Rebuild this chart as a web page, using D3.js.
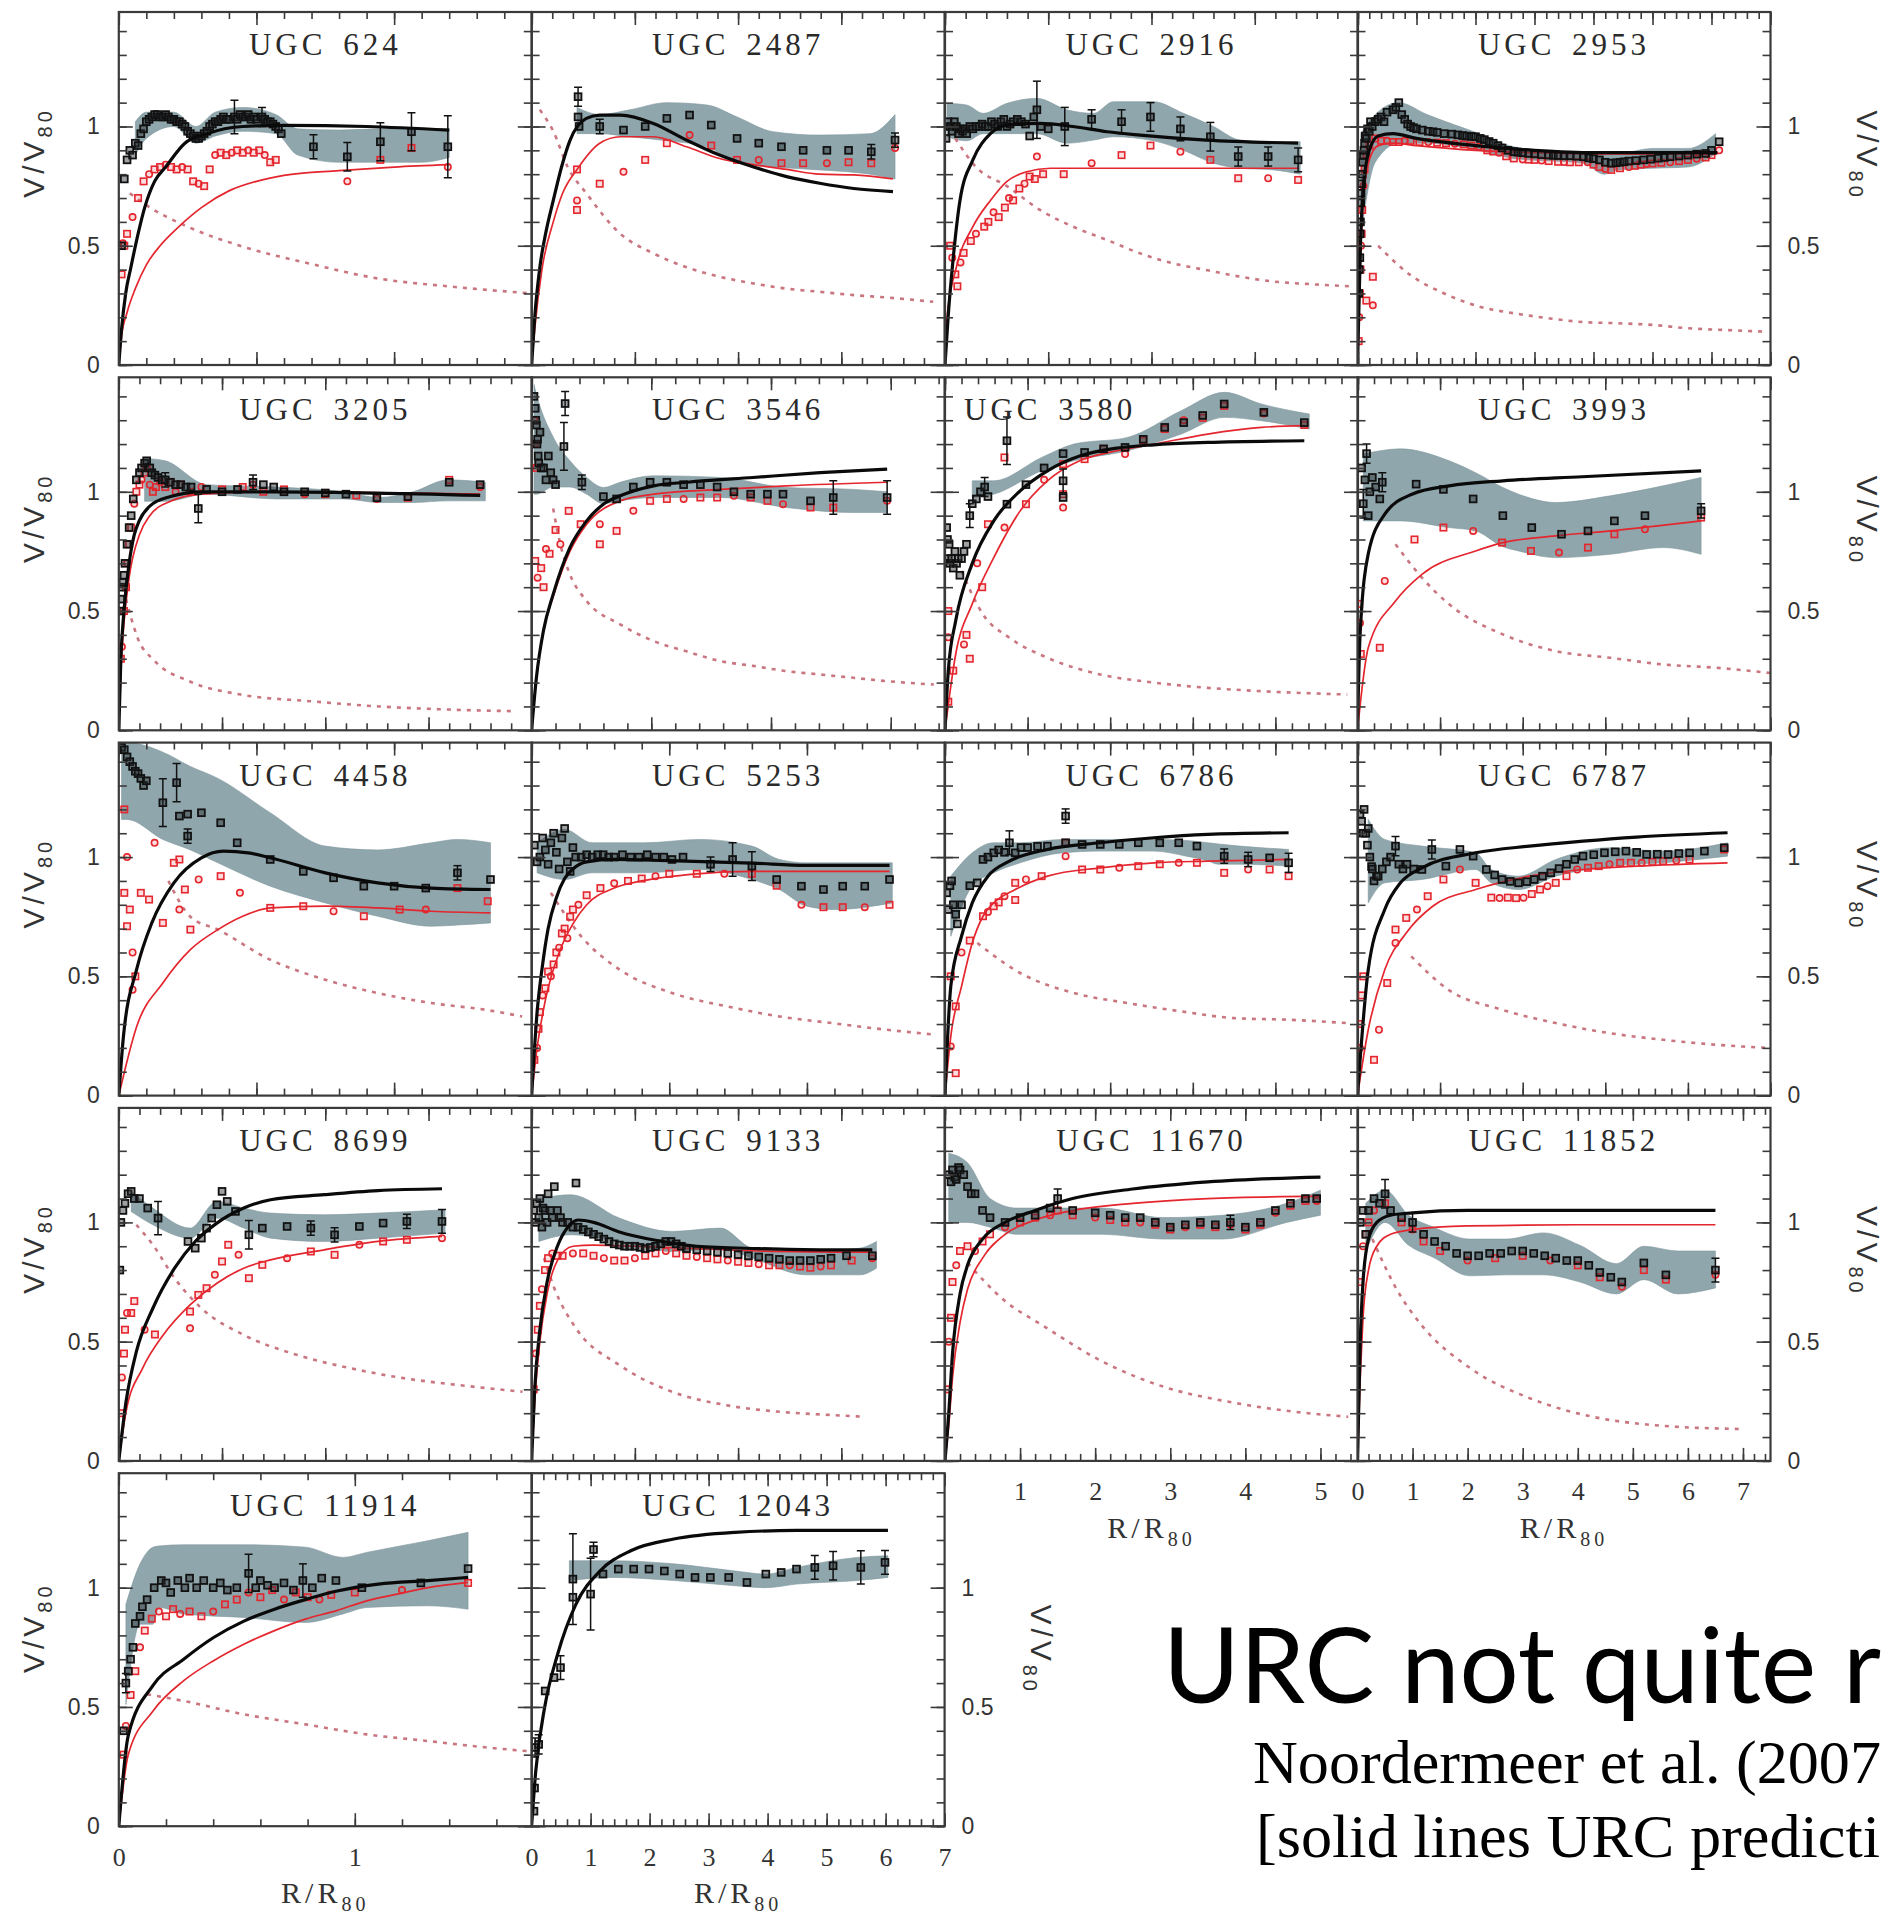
<!DOCTYPE html>
<html><head><meta charset="utf-8">
<script src="https://cdn.jsdelivr.net/npm/d3@7/dist/d3.min.js"></script>
<style>html,body{margin:0;padding:0;background:#fff;overflow:hidden}</style>
</head><body>
<svg id="chart" width="1885" height="1921"></svg>
<script>
// ---------------- DATA (x in R/R80 panel units, y in V/V80) ----------------
const galaxyNames = ["UGC 624","UGC 2487","UGC 2916","UGC 2953","UGC 3205","UGC 3546","UGC 3580","UGC 3993","UGC 4458","UGC 5253","UGC 6786","UGC 6787","UGC 8699","UGC 9133","UGC 11670","UGC 11852","UGC 11914","UGC 12043"];
const xMaxValues = [1.5,4,4,7,4,3.45,5,5,1.5,1.5,5,5,4,4,5.5,7.5,1.75,7];
const xMajorSteps = [0.5,1,1,1,1,1,1,1,0.5,0.5,1,1,1,1,1,1,1,1];
const xMinorSteps = [0.1,0.2,0.2,0.2,0.2,0.2,0.2,0.2,0.1,0.1,0.2,0.2,0.2,0.2,0.2,0.2,0.2,0.2];
const yTickLabels = [0,0.5,1];
const xTickLabels11670 = [1,2,3,4,5];
const xTickLabels11852 = [0,1,2,3,4,5,6,7];
const xTickLabels11914 = [0,1];
const xTickLabels12043 = [0,1,2,3,4,5,6,7];
const annotationTitle = "URC not quite r";
const annotationRef = "Noordermeer et al. (2007";
const annotationNote = "[solid lines URC predicti";

// UGC 624
const u624Band=[[0.06,0.88,1.02],[0.1,0.95,1.06],[0.2,1.0,1.06],[0.28,0.93,1.0],[0.35,0.96,1.06],[0.45,0.98,1.08],[0.57,0.97,1.05],[0.65,0.88,0.99],[0.8,0.85,0.985],[0.95,0.85,0.99],[1.1,0.85,0.99],[1.2,0.87,0.99]];
const u624Black=[[0.01,0.5,0],[0.02,0.78,0],[0.03,0.86,0],[0.04,0.9,0],[0.05,0.88,0],[0.06,0.93,0],[0.07,0.92,0],[0.08,0.97,0],[0.09,0.99,0],[0.1,1.02,0],[0.11,1.03,0],[0.12,1.04,0],[0.13,1.05,0],[0.14,1.05,0],[0.15,1.04,0],[0.16,1.04,0],[0.17,1.05,0],[0.18,1.04,0],[0.19,1.03,0],[0.2,1.03,0],[0.21,1.02,0],[0.22,1.02,0],[0.23,1.01,0],[0.24,1.0,0],[0.25,0.98,0],[0.26,0.97,0],[0.27,0.96,0],[0.28,0.95,0],[0.29,0.95,0],[0.3,0.96,0],[0.31,0.97,0],[0.32,0.98,0],[0.33,1.0,0],[0.34,1.01,0],[0.35,1.02,0],[0.36,1.02,0],[0.37,1.03,0],[0.38,1.04,0],[0.39,1.03,0],[0.4,1.03,0],[0.42,1.04,0.07],[0.43,1.03,0],[0.44,1.05,0],[0.45,1.04,0],[0.46,1.04,0],[0.47,1.05,0],[0.48,1.03,0],[0.49,1.04,0],[0.5,1.03,0],[0.52,1.04,0.04],[0.53,1.03,0],[0.54,1.02,0],[0.55,1.02,0],[0.56,1.01,0],[0.57,1.0,0],[0.58,0.99,0],[0.59,0.97,0],[0.707,0.915,0.05],[0.83,0.873,0.06],[0.95,0.936,0.08],[1.063,0.978,0.08],[1.195,0.915,0.13]];
const u624Red=[[0.01,0.38],[0.015,0.51],[0.02,0.5],[0.03,0.55],[0.05,0.62],[0.07,0.7],[0.09,0.77],[0.11,0.8],[0.13,0.82],[0.15,0.83],[0.17,0.84],[0.19,0.83],[0.21,0.82],[0.23,0.83],[0.25,0.82],[0.27,0.77],[0.29,0.76],[0.31,0.75],[0.33,0.82],[0.35,0.88],[0.37,0.89],[0.39,0.88],[0.41,0.89],[0.43,0.9],[0.45,0.89],[0.47,0.9],[0.49,0.89],[0.51,0.9],[0.53,0.88],[0.55,0.85],[0.57,0.86],[0.83,0.77],[0.95,0.86],[1.063,0.91],[1.195,0.83]];
const u624Urc=[[0,0],[0.01,0.15],[0.025,0.3],[0.044,0.41],[0.07,0.55],[0.094,0.66],[0.13,0.77],[0.17,0.83],[0.24,0.93],[0.32,0.97],[0.45,1.0],[0.6,1.005],[0.9,1.0],[1.2,0.985]];
const u624RedLine=[[0,0],[0.01,0.12],[0.03,0.22],[0.06,0.32],[0.1,0.42],[0.15,0.5],[0.2,0.56],[0.3,0.66],[0.4,0.73],[0.5,0.77],[0.6,0.795],[0.8,0.815],[1.0,0.83],[1.2,0.84]];
const u624RedDot=[[0.04,0.72],[0.1,0.67],[0.25,0.58],[0.44,0.5],[0.69,0.426],[0.94,0.363],[1.195,0.33],[1.5,0.30]];

// UGC 2487
const u2487Band=[[0.44,0.97,1.08],[0.66,0.97,1.05],[0.95,0.957,1.07],[1.31,0.94,1.1],[1.7,0.915,1.09],[1.99,0.846,1.04],[2.34,0.83,0.978],[2.79,0.818,0.964],[3.28,0.8,0.97],[3.52,0.78,1.05]];
const u2487Black=[[0.45,1.125,0.04],[0.45,1.04,0],[0.46,1.0,0],[0.66,1.0,0.03],[0.89,0.985,0],[1.1,1.0,0],[1.31,1.034,0],[1.53,1.048,0],[1.74,1.006,0],[1.99,0.95,0],[2.2,0.93,0],[2.42,0.915,0],[2.63,0.9,0],[2.86,0.9,0],[3.07,0.9,0],[3.29,0.894,0.03],[3.52,0.943,0.03]];
const u2487Red=[[0.44,0.82],[0.44,0.69],[0.44,0.65],[0.66,0.76],[0.89,0.81],[1.1,0.86],[1.31,0.93],[1.53,0.964],[1.74,0.92],[1.99,0.86],[2.2,0.86],[2.42,0.846],[2.63,0.846],[2.86,0.846],[3.07,0.85],[3.29,0.846],[3.52,0.91]];
const u2487Urc=[[0,0],[0.03,0.2],[0.08,0.41],[0.14,0.56],[0.21,0.69],[0.29,0.83],[0.37,0.94],[0.53,1.034],[0.66,1.048],[0.86,1.048],[1.18,1.013],[1.5,0.943],[1.82,0.88],[2.15,0.83],[2.47,0.79],[2.79,0.762],[3.12,0.74],[3.5,0.727]];
const u2487RedLine=[[0,0],[0.03,0.15],[0.1,0.4],[0.21,0.6],[0.3,0.72],[0.44,0.82],[0.66,0.93],[0.86,0.957],[1.18,0.957],[1.5,0.915],[1.82,0.866],[2.15,0.84],[2.47,0.82],[2.79,0.80],[3.12,0.797],[3.5,0.78]];
const u2487RedDot=[[0.08,1.07],[0.21,0.98],[0.35,0.83],[0.53,0.72],[0.86,0.55],[1.18,0.468],[1.5,0.41],[1.82,0.37],[2.15,0.342],[2.47,0.32],[2.79,0.307],[3.12,0.293],[3.44,0.283],[3.89,0.265]];

// UGC 2916
const u2916Band=[[0.02,0.957,1.097],[0.21,0.94,1.09],[0.37,0.97,1.055],[0.6,0.97,1.097],[0.89,0.97,1.118],[1.18,0.93,1.07],[1.44,0.943,1.055],[1.63,0.957,1.104],[2.02,0.94,1.104],[2.31,0.9,1.055],[2.6,0.846,1.0],[2.86,0.825,0.943],[3.18,0.818,0.936],[3.44,0.8,0.936]];
const u2916Black=[[0.01,0.95,0],[0.03,1.02,0],[0.05,1.0,0],[0.07,0.98,0],[0.09,1.02,0],[0.11,1.0,0],[0.13,0.97,0],[0.15,0.99,0],[0.17,0.98,0],[0.19,0.99,0],[0.21,0.97,0],[0.24,1.0,0],[0.27,0.99,0],[0.3,1.0,0],[0.33,1.0,0],[0.36,1.01,0],[0.39,1.0,0],[0.42,1.0,0],[0.45,1.02,0],[0.48,1.01,0],[0.51,1.0,0],[0.54,1.02,0],[0.57,1.03,0],[0.6,1.0,0],[0.63,1.01,0],[0.66,1.02,0],[0.7,1.03,0],[0.74,1.02,0],[0.78,1.01,0],[0.82,0.96,0],[0.86,1.04,0],[0.89,1.07,0.12],[0.93,1.0,0],[1.0,0.99,0],[1.16,1.0,0.08],[1.42,1.03,0.04],[1.71,1.02,0.05],[1.99,1.04,0.06],[2.28,0.99,0.05],[2.57,0.957,0.06],[2.84,0.874,0.04],[3.13,0.874,0.04],[3.42,0.86,0.05]];
const u2916Red=[[0.05,0.5],[0.07,0.45],[0.1,0.38],[0.12,0.33],[0.15,0.43],[0.18,0.47],[0.25,0.52],[0.3,0.55],[0.38,0.58],[0.42,0.6],[0.47,0.64],[0.52,0.62],[0.58,0.66],[0.62,0.7],[0.66,0.69],[0.72,0.74],[0.77,0.76],[0.82,0.79],[0.87,0.78],[0.89,0.874],[0.95,0.8],[1.15,0.8],[1.42,0.846],[1.71,0.88],[1.99,0.92],[2.28,0.894],[2.57,0.86],[2.84,0.783],[3.13,0.783],[3.42,0.776]];
const u2916Urc=[[0,0],[0.03,0.2],[0.08,0.45],[0.145,0.69],[0.27,0.86],[0.44,0.97],[0.6,1.006],[0.92,1.013],[1.24,1.0],[1.57,0.978],[1.89,0.964],[2.53,0.943],[3.42,0.93]];
const u2916RedLine=[[0,0],[0.02,0.2],[0.11,0.41],[0.27,0.58],[0.44,0.69],[0.6,0.77],[0.79,0.81],[1.02,0.825],[1.6,0.825],[3.42,0.825]];
const u2916RedDot=[[0.1,0.95],[0.3,0.83],[0.6,0.75],[0.92,0.65],[1.24,0.58],[1.57,0.524],[1.89,0.468],[2.21,0.426],[2.53,0.398],[2.86,0.37],[3.18,0.35],[3.5,0.34],[3.92,0.33]];

// UGC 2953
const u2953Band=[[0.06,0.55,0.97],[0.3,0.85,1.05],[0.7,0.93,1.1],[1.18,0.93,1.05],[2.06,0.9,0.97],[2.65,0.866,0.915],[3.83,0.846,0.887],[4.18,0.8,0.887],[4.42,0.818,0.887],[5.0,0.825,0.908],[5.6,0.83,0.908],[6.07,0.887,0.97]];
const u2953Black=[[0.02,0.3,0],[0.03,0.4,0],[0.04,0.45,0],[0.045,0.55,0],[0.05,0.6,0],[0.055,0.68,0],[0.06,0.72,0],[0.07,0.76,0],[0.08,0.8,0],[0.09,0.85,0],[0.1,0.88,0],[0.11,0.9,0],[0.12,0.93,0],[0.13,0.96,0],[0.15,0.95,0],[0.17,0.99,0],[0.2,0.98,0],[0.22,1.02,0],[0.25,1.0,0],[0.3,1.02,0],[0.35,1.03,0],[0.4,1.04,0],[0.45,1.02,0],[0.5,1.06,0],[0.6,1.07,0],[0.65,1.08,0],[0.7,1.1,0],[0.75,1.05,0],[0.8,1.03,0],[0.85,1.01,0],[0.9,1.0,0],[0.95,0.995,0],[1.0,0.99,0],[1.1,0.985,0],[1.2,0.98,0],[1.28,0.978,0],[1.35,0.975,0],[1.47,0.97,0],[1.6,0.968,0],[1.7,0.965,0],[1.78,0.962,0],[1.85,0.96,0],[1.93,0.958,0],[2.0,0.957,0],[2.08,0.95,0],[2.15,0.945,0],[2.23,0.937,0],[2.3,0.93,0],[2.38,0.92,0],[2.45,0.91,0],[2.55,0.9,0],[2.65,0.894,0],[2.72,0.892,0],[2.8,0.89,0],[2.9,0.887,0],[3.0,0.885,0],[3.12,0.882,0],[3.24,0.88,0],[3.32,0.879,0],[3.4,0.878,0],[3.5,0.877,0],[3.6,0.877,0],[3.72,0.875,0],[3.83,0.873,0],[3.92,0.868,0],[4.0,0.865,0],[4.1,0.86,0],[4.2,0.85,0],[4.3,0.846,0],[4.38,0.848,0],[4.45,0.85,0],[4.52,0.852,0],[4.6,0.855,0],[4.72,0.857,0],[4.85,0.86,0],[4.97,0.863,0],[5.1,0.867,0],[5.2,0.87,0],[5.3,0.873,0],[5.45,0.876,0],[5.6,0.88,0],[5.75,0.884,0],[5.9,0.887,0],[6.0,0.9,0],[6.13,0.936,0]];
const u2953Red=[[0.02,0.1],[0.03,0.2],[0.04,0.3],[0.05,0.4],[0.06,0.5],[0.07,0.55],[0.08,0.65],[0.1,0.75],[0.12,0.82],[0.15,0.27],[0.15,0.88],[0.2,0.92],[0.26,0.37],[0.26,0.25],[0.3,0.95],[0.4,0.94],[0.5,0.94],[0.6,0.935],[0.7,0.935],[0.8,0.94],[0.9,0.94],[1.05,0.935],[1.2,0.935],[1.35,0.932],[1.5,0.93],[1.65,0.928],[1.8,0.925],[1.93,0.92],[2.06,0.915],[2.2,0.9],[2.3,0.895],[2.4,0.89],[2.52,0.875],[2.65,0.866],[2.8,0.862],[2.9,0.861],[3.0,0.86],[3.12,0.857],[3.24,0.855],[3.4,0.852],[3.5,0.851],[3.6,0.85],[3.75,0.85],[3.9,0.85],[4.0,0.84],[4.1,0.83],[4.2,0.822],[4.3,0.818],[4.45,0.825],[4.6,0.83],[4.7,0.835],[4.8,0.84],[4.9,0.843],[5.0,0.845],[5.15,0.848],[5.3,0.85],[5.45,0.855],[5.6,0.86],[5.75,0.865],[5.9,0.87],[6.0,0.88],[6.13,0.9]];
const u2953Urc=[[0,0],[0.05,0.5],[0.1,0.75],[0.2,0.9],[0.35,0.96],[0.6,0.97],[1,0.95],[2,0.92],[3,0.9],[4,0.89],[5,0.89],[6.1,0.89]];
const u2953RedLine=[[0,0],[0.05,0.45],[0.1,0.7],[0.2,0.86],[0.35,0.92],[0.6,0.93],[1,0.92],[2,0.9],[3,0.89],[4,0.885],[5,0.885],[6.1,0.885]];
const u2953RedDot=[[0.35,0.5],[0.88,0.38],[1.47,0.3],[2.06,0.245],[2.65,0.217],[3.24,0.196],[3.83,0.18],[4.42,0.175],[5.0,0.168],[5.6,0.154],[6.2,0.147],[6.9,0.14]];

// UGC 3205
const u3205Band=[[0.25,0.96,1.14],[0.45,0.96,1.13],[0.85,0.99,1.03],[1.52,0.97,1.02],[2.18,0.97,1.0],[2.52,0.955,0.976],[2.85,0.955,1.0],[3.19,0.962,1.05],[3.55,0.962,1.04]];
const u3205Black=[[0.01,0.5,0],[0.02,0.55,0],[0.03,0.6,0],[0.04,0.62,0],[0.05,0.65,0],[0.06,0.7,0],[0.08,0.78,0],[0.1,0.85,0],[0.12,0.9,0],[0.14,0.97,0],[0.17,1.05,0],[0.2,1.08,0],[0.22,1.1,0],[0.25,1.12,0],[0.27,1.13,0],[0.3,1.1,0],[0.32,1.08,0],[0.35,1.07,0],[0.38,1.06,0],[0.42,1.05,0],[0.45,1.05,0.03],[0.5,1.04,0],[0.55,1.03,0],[0.6,1.03,0],[0.65,1.02,0],[0.7,1.02,0],[0.77,0.93,0.06],[0.85,1.01,0],[1.0,1.0,0],[1.15,1.01,0],[1.3,1.04,0.03],[1.4,1.03,0],[1.5,1.02,0],[1.6,1.0,0],[1.8,1.0,0],[2.0,0.995,0],[2.2,0.99,0],[2.5,0.975,0],[2.8,0.98,0],[3.2,1.04,0],[3.5,1.03,0]];
const u3205Red=[[0.02,0.3],[0.03,0.35],[0.05,0.5],[0.07,0.6],[0.08,0.7],[0.1,0.78],[0.12,0.85],[0.15,0.95],[0.17,1.0],[0.2,1.03],[0.22,1.05],[0.25,1.08],[0.27,1.1],[0.3,1.03],[0.33,1.0],[0.36,1.02],[0.4,1.04],[0.45,1.02],[0.5,1.04],[0.55,1.0],[0.6,1.03],[0.7,1.0],[0.8,1.02],[1.0,1.01],[1.2,1.02],[1.3,1.03],[1.4,1.0],[1.6,1.01],[1.8,0.99],[2.0,0.99],[2.3,0.985],[2.5,0.97],[2.8,0.975],[3.2,1.05],[3.5,1.02]];
const u3205Urc=[[0,0],[0.02,0.3],[0.05,0.5],[0.1,0.7],[0.15,0.82],[0.2,0.88],[0.3,0.94],[0.5,0.98],[0.8,1.0],[1.5,1.0],[3.5,0.985]];
const u3205RedLine=[[0,0],[0.02,0.25],[0.05,0.45],[0.1,0.64],[0.2,0.82],[0.3,0.9],[0.5,0.96],[0.8,0.99],[1.5,1.0],[3.5,0.99]];
const u3205RedDot=[[0.07,0.55],[0.12,0.47],[0.18,0.39],[0.35,0.29],[0.68,0.206],[1.18,0.15],[1.85,0.122],[2.52,0.1],[3.19,0.087],[3.85,0.08]];

// UGC 3546
const u3546Band=[[0.02,0.99,1.45],[0.04,0.99,1.41],[0.18,1.02,1.23],[0.32,1.02,1.13],[0.46,0.99,1.06],[0.6,0.95,1.018],[0.74,0.962,1.04],[1.02,0.976,1.067],[1.58,0.976,1.06],[2.13,0.934,1.018],[2.69,0.913,1.01],[2.97,0.913,1.0]];
const u3546Black=[[0.02,1.4,0],[0.03,1.35,0],[0.035,1.3,0],[0.04,1.28,0],[0.045,1.2,0],[0.05,1.22,0],[0.055,1.15,0],[0.06,1.12,0],[0.07,1.25,0],[0.08,1.1,0],[0.1,1.1,0],[0.12,1.05,0],[0.14,1.15,0],[0.16,1.08,0],[0.18,1.05,0],[0.2,1.03,0],[0.27,1.19,0.1],[0.28,1.37,0.05],[0.42,1.04,0.03],[0.6,0.98,0],[0.71,0.97,0],[0.85,1.02,0],[0.99,1.04,0],[1.13,1.04,0],[1.27,1.03,0],[1.41,1.03,0],[1.55,1.02,0],[1.69,1.0,0],[1.83,0.99,0],[1.97,0.99,0],[2.1,0.99,0],[2.33,0.962,0],[2.52,0.976,0.07],[2.97,0.976,0.07]];
const u3546Red=[[0.02,1.3],[0.03,1.2],[0.04,1.1],[0.03,0.71],[0.05,0.64],[0.08,0.68],[0.1,0.6],[0.12,0.76],[0.15,0.74],[0.2,0.84],[0.24,0.78],[0.31,0.92],[0.41,0.864],[0.57,0.864],[0.57,0.78],[0.71,0.836],[0.85,0.92],[0.99,0.962],[1.13,0.97],[1.27,0.97],[1.41,0.976],[1.55,0.976],[1.69,0.983],[1.83,0.976],[1.97,0.962],[2.1,0.948],[2.33,0.934],[2.52,0.934],[2.97,0.962]];
const u3546Urc=[[0,0],[0.04,0.22],[0.1,0.42],[0.18,0.57],[0.32,0.766],[0.46,0.878],[0.6,0.948],[0.74,0.983],[1.02,1.025],[1.3,1.04],[1.85,1.06],[2.41,1.08],[2.97,1.095]];
const u3546RedLine=[[0,0],[0.04,0.22],[0.1,0.42],[0.18,0.56],[0.32,0.75],[0.46,0.864],[0.74,0.962],[1.02,0.99],[1.58,1.01],[2.13,1.025],[2.97,1.04]];
const u3546RedDot=[[0.18,0.93],[0.25,0.76],[0.32,0.654],[0.46,0.542],[0.74,0.444],[1.02,0.374],[1.3,0.33],[1.58,0.29],[1.85,0.27],[2.13,0.248],[2.41,0.234],[2.69,0.22],[2.97,0.206],[3.36,0.192]];

// UGC 3580
const u3580Band=[[0.33,0.976,1.046],[0.59,0.99,1.046],[1.17,1.088,1.144],[1.56,1.13,1.2],[2.21,1.172,1.228],[2.86,1.242,1.34],[3.38,1.312,1.417],[3.83,1.298,1.368],[4.41,1.263,1.326]];
const u3580Black=[[0.02,0.85,0],[0.03,0.8,0],[0.04,0.72,0],[0.05,0.78,0],[0.06,0.7,0],[0.08,0.72,0],[0.1,0.68,0],[0.12,0.75,0],[0.14,0.7,0],[0.16,0.72,0],[0.18,0.65,0],[0.2,0.72,0],[0.23,0.75,0],[0.26,0.78,0],[0.3,0.9,0.05],[0.33,0.95,0],[0.38,0.97,0],[0.43,1.0,0],[0.48,1.02,0.04],[0.52,0.98,0],[0.75,1.214,0.1],[0.75,0.948,0],[0.98,1.03,0],[1.2,1.1,0],[1.43,1.16,0],[1.43,1.046,0.05],[1.43,0.976,0],[1.69,1.165,0],[1.92,1.18,0],[2.18,1.186,0],[2.4,1.22,0],[2.66,1.27,0],[2.89,1.29,0],[3.12,1.32,0],[3.38,1.368,0],[3.86,1.333,0],[4.35,1.29,0]];
const u3580Red=[[0.04,0.5],[0.04,0.39],[0.04,0.12],[0.1,0.25],[0.23,0.36],[0.26,0.4],[0.3,0.3],[0.39,0.7],[0.45,0.6],[0.52,0.864],[0.72,0.85],[0.72,1.144],[0.98,0.948],[1.2,1.05],[1.43,1.116],[1.43,0.99],[1.43,0.934],[1.69,1.137],[1.92,1.18],[2.18,1.158],[2.4,1.214],[2.66,1.263],[2.89,1.3],[3.12,1.31],[3.38,1.36],[3.86,1.328],[4.35,1.28]];
const u3580Urc=[[0,0],[0.04,0.25],[0.13,0.46],[0.33,0.7],[0.59,0.878],[0.91,1.004],[1.24,1.088],[1.63,1.15],[2.08,1.183],[2.53,1.197],[3.18,1.207],[4.35,1.214]];
const u3580RedLine=[[0,0],[0.13,0.32],[0.33,0.53],[0.59,0.724],[0.91,0.92],[1.24,1.046],[1.63,1.13],[2.08,1.172],[2.53,1.2],[3.18,1.242],[3.83,1.27],[4.35,1.277]];
const u3580RedDot=[[0.2,0.668],[0.46,0.486],[0.78,0.388],[1.24,0.304],[1.88,0.234],[2.53,0.2],[3.18,0.178],[3.83,0.164],[4.87,0.15]];

// UGC 3993
const u3993Band=[[0.07,0.878,1.158],[0.52,0.878,1.18],[1.11,0.85,1.13],[1.43,0.836,1.08],[1.76,0.77,1.018],[1.95,0.752,0.99],[2.4,0.724,0.955],[3.06,0.738,0.983],[3.7,0.766,1.025],[4.16,0.738,1.06]];
const u3993Black=[[0.05,1.1,0],[0.07,0.95,0.06],[0.09,1.05,0],[0.11,1.16,0.04],[0.13,0.9,0],[0.15,1.0,0],[0.18,1.06,0],[0.22,1.02,0],[0.27,0.97,0],[0.3,1.04,0.04],[0.71,1.032,0],[1.04,1.01,0],[1.4,0.97,0],[1.76,0.9,0],[2.11,0.85,0],[2.47,0.822,0],[2.79,0.836,0],[3.11,0.878,0],[3.48,0.9,0],[4.16,0.92,0.03]];
const u3993Red=[[0.02,0.53],[0.03,0.45],[0.04,0.32],[0.27,0.346],[0.33,0.626],[0.69,0.8],[1.04,0.85],[1.4,0.836],[1.75,0.787],[2.1,0.752],[2.44,0.745],[2.79,0.766],[3.11,0.822],[3.48,0.843],[4.16,0.892]];
const u3993Urc=[[0,0],[0.03,0.39],[0.13,0.74],[0.33,0.906],[0.66,0.99],[1.11,1.025],[1.76,1.046],[2.72,1.063],[4.16,1.088]];
const u3993RedLine=[[0,0],[0.13,0.346],[0.46,0.542],[0.78,0.654],[1.43,0.752],[1.76,0.787],[2.4,0.815],[3.06,0.836],[4.16,0.878]];
const u3993RedDot=[[0.46,0.78],[0.78,0.64],[1.11,0.528],[1.76,0.402],[2.4,0.332],[3.06,0.304],[3.7,0.276],[4.35,0.262],[5.0,0.24]];

// UGC 4458
const u4458Band=[[0.01,1.158,1.48],[0.03,1.158,1.48],[0.16,1.074,1.44],[0.26,1.03,1.38],[0.36,0.976,1.33],[0.55,0.878,1.186],[0.75,0.808,1.046],[0.94,0.752,1.03],[1.135,0.71,1.06],[1.23,0.715,1.074],[1.35,0.724,1.06]];
const u4458Black=[[0.01,1.46,0],[0.02,1.45,0],[0.03,1.42,0],[0.04,1.4,0],[0.05,1.38,0],[0.06,1.36,0],[0.07,1.35,0],[0.08,1.33,0],[0.09,1.3,0],[0.1,1.32,0],[0.16,1.228,0.1],[0.21,1.312,0.08],[0.22,1.172,0],[0.25,1.18,0],[0.25,1.088,0.03],[0.3,1.186,0],[0.37,1.144,0],[0.43,1.06,0],[0.55,0.99,0],[0.67,0.94,0],[0.78,0.913,0],[0.89,0.878,0],[1.0,0.878,0],[1.115,0.87,0],[1.23,0.934,0.03],[1.35,0.906,0]];
const u4458Red=[[0.02,1.2],[0.03,1.0],[0.02,0.85],[0.04,0.78],[0.05,0.6],[0.06,0.5],[0.03,0.71],[0.05,0.444],[0.08,0.85],[0.11,0.822],[0.13,1.06],[0.2,0.976],[0.22,0.99],[0.29,0.906],[0.37,0.92],[0.24,0.864],[0.22,0.78],[0.16,0.724],[0.26,0.696],[0.44,0.85],[0.55,0.787],[0.67,0.794],[0.78,0.773],[0.89,0.752],[1.02,0.78],[1.115,0.78],[1.23,0.87],[1.34,0.815]];
const u4458Urc=[[0,0],[0.017,0.25],[0.065,0.53],[0.12,0.724],[0.2,0.892],[0.3,0.997],[0.38,1.025],[0.47,1.018],[0.55,0.997],[0.75,0.934],[0.94,0.892],[1.135,0.87],[1.35,0.864]];
const u4458RedLine=[[0,0],[0.065,0.29],[0.16,0.472],[0.26,0.612],[0.36,0.696],[0.45,0.752],[0.55,0.787],[0.75,0.794],[0.94,0.787],[1.135,0.773],[1.35,0.766]];
const u4458RedDot=[[0.18,0.9],[0.26,0.75],[0.36,0.696],[0.55,0.57],[0.75,0.486],[0.94,0.43],[1.135,0.388],[1.33,0.36],[1.465,0.332]];

// UGC 5253
const u5253Band=[[0.02,0.934,1.06],[0.12,0.906,1.116],[0.22,0.934,1.06],[0.41,0.934,1.06],[0.61,0.948,1.074],[0.8,0.906,1.046],[0.9,0.864,0.99],[1.0,0.794,0.976],[1.1,0.78,0.976],[1.31,0.808,0.976]];
const u5253Black=[[0.01,1.05,0],[0.02,0.98,0],[0.03,1.0,0],[0.04,1.08,0],[0.05,1.03,0],[0.06,0.97,0],[0.07,1.06,0],[0.08,1.1,0],[0.09,1.02,0],[0.1,0.95,0],[0.11,1.08,0],[0.12,1.12,0],[0.13,0.98,0],[0.14,0.94,0],[0.15,1.04,0],[0.16,1.0,0],[0.18,1.0,0],[0.2,1.01,0],[0.22,1.0,0],[0.24,1.01,0],[0.26,1.01,0],[0.28,1.0,0],[0.3,1.0,0],[0.33,1.01,0],[0.36,1.0,0],[0.39,1.0,0],[0.42,1.01,0],[0.45,1.0,0],[0.48,1.0,0],[0.51,0.99,0],[0.55,1.0,0],[0.65,0.97,0.03],[0.73,0.99,0.07],[0.8,0.962,0.06],[0.89,0.906,0],[0.98,0.878,0],[1.06,0.864,0],[1.13,0.878,0],[1.21,0.878,0],[1.3,0.906,0]];
const u5253Red=[[0.01,0.15],[0.02,0.2],[0.025,0.28],[0.03,0.35],[0.04,0.42],[0.05,0.45],[0.06,0.52],[0.07,0.5],[0.08,0.55],[0.09,0.6],[0.1,0.62],[0.11,0.68],[0.12,0.7],[0.13,0.66],[0.14,0.75],[0.15,0.78],[0.17,0.8],[0.2,0.84],[0.25,0.87],[0.3,0.89],[0.35,0.9],[0.4,0.91],[0.45,0.92],[0.5,0.93],[0.6,0.93],[0.7,0.93],[0.8,0.93],[0.89,0.88],[0.98,0.8],[1.06,0.79],[1.13,0.79],[1.21,0.79],[1.3,0.8]];
const u5253Urc=[[0,0],[0.02,0.35],[0.04,0.55],[0.06,0.7],[0.09,0.83],[0.12,0.91],[0.15,0.95],[0.2,0.98],[0.3,0.99],[0.5,0.985],[0.8,0.975],[1.0,0.965],[1.3,0.965]];
const u5253RedLine=[[0,0],[0.02,0.2],[0.05,0.4],[0.1,0.6],[0.15,0.72],[0.2,0.8],[0.3,0.87],[0.4,0.9],[0.6,0.93],[0.8,0.94],[1.0,0.94],[1.3,0.94]];
const u5253RedDot=[[0.07,0.85],[0.18,0.668],[0.32,0.528],[0.51,0.43],[0.71,0.374],[0.9,0.332],[1.09,0.304],[1.29,0.276],[1.47,0.255]];

// UGC 6786
const u6786Band=[[0.07,0.668,0.92],[0.33,0.878,1.018],[0.59,0.934,1.06],[0.91,0.976,1.06],[1.43,1.018,1.074],[1.88,1.025,1.074],[2.53,1.025,1.074],[2.92,1.004,1.07],[3.18,0.985,1.06],[3.31,0.97,1.055],[3.57,0.97,1.046],[4.16,0.962,1.032]];
const u6786Black=[[0.02,0.85,0],[0.04,0.78,0],[0.06,0.88,0],[0.08,0.9,0],[0.1,0.8,0],[0.13,0.76,0],[0.15,0.72,0],[0.2,0.8,0],[0.3,0.88,0],[0.39,0.892,0],[0.46,0.99,0],[0.52,1.0,0],[0.59,1.018,0],[0.65,1.03,0],[0.72,1.02,0],[0.78,1.06,0.05],[0.85,1.018,0],[0.92,1.04,0],[1.0,1.04,0],[1.12,1.045,0],[1.24,1.046,0],[1.46,1.172,0.03],[1.46,1.06,0],[1.66,1.053,0],[1.88,1.053,0],[2.11,1.053,0],[2.34,1.06,0],[2.6,1.06,0],[2.83,1.06,0],[3.05,1.046,0],[3.38,1.004,0.03],[3.67,0.99,0.03],[3.93,0.997,0],[4.16,0.976,0.04]];
const u6786Red=[[0.13,0.094],[0.07,0.206],[0.13,0.374],[0.07,0.5],[0.2,0.6],[0.3,0.65],[0.46,0.752],[0.52,0.77],[0.59,0.794],[0.65,0.81],[0.72,0.836],[0.85,0.892],[0.85,0.82],[0.98,0.906],[1.17,0.92],[1.46,1.06],[1.46,1.004],[1.66,0.948],[1.88,0.948],[2.11,0.955],[2.34,0.962],[2.6,0.97],[2.83,0.976],[3.05,0.976],[3.38,0.934],[3.67,0.948],[3.93,0.948],[4.16,0.92]];
const u6786Urc=[[0,0],[0.07,0.458],[0.2,0.668],[0.33,0.808],[0.52,0.92],[0.78,0.983],[1.24,1.032],[1.88,1.06],[2.53,1.081],[3.18,1.095],[4.16,1.102]];
const u6786RedLine=[[0,0],[0.07,0.248],[0.2,0.458],[0.33,0.64],[0.46,0.752],[0.59,0.808],[0.85,0.864],[1.24,0.92],[1.88,0.955],[2.53,0.976],[3.18,0.983],[4.16,0.99]];
const u6786RedDot=[[0.39,0.64],[0.91,0.514],[1.56,0.43],[2.21,0.388],[2.86,0.353],[3.5,0.325],[4.16,0.318],[4.87,0.304]];

// UGC 6787
const u6787Band=[[0.13,0.808,1.158],[0.33,0.892,1.074],[0.78,0.906,1.046],[1.43,0.948,1.018],[1.62,0.892,0.948],[1.95,0.864,0.92],[2.4,0.92,0.99],[3.05,0.962,1.039],[3.7,0.976,1.025],[4.48,1.004,1.06]];
const u6787Black=[[0.03,1.18,0],[0.05,1.15,0],[0.07,1.1,0],[0.08,1.2,0],[0.1,1.1,0],[0.12,1.05,0],[0.13,1.12,0],[0.15,1.0,0],[0.17,0.96,0],[0.18,0.95,0],[0.2,0.9,0],[0.23,0.92,0],[0.25,0.92,0],[0.3,0.95,0],[0.35,0.98,0],[0.4,1.0,0],[0.46,1.046,0.04],[0.5,0.97,0],[0.55,0.95,0],[0.6,0.97,0],[0.68,0.95,0],[0.78,0.948,0],[0.9,1.032,0.04],[1.07,0.962,0],[1.24,1.032,0],[1.4,1.004,0],[1.56,0.948,0],[1.66,0.925,0],[1.75,0.906,0],[1.85,0.898,0],[1.95,0.892,0],[2.05,0.897,0],[2.14,0.906,0],[2.24,0.92,0],[2.34,0.934,0],[2.44,0.952,0],[2.53,0.97,0],[2.63,0.99,0],[2.73,1.004,0],[2.86,1.01,0],[2.99,1.018,0],[3.12,1.022,0],[3.25,1.025,0],[3.38,1.02,0],[3.5,1.011,0],[3.63,1.012,0],[3.76,1.011,0],[3.89,1.015,0],[4.02,1.018,0],[4.2,1.025,0],[4.44,1.039,0]];
const u6787Red=[[0.02,0.3],[0.03,0.2],[0.05,0.42],[0.07,0.5],[0.26,0.276],[0.2,0.15],[0.36,0.472],[0.46,0.64],[0.46,0.696],[0.59,0.745],[0.72,0.78],[0.85,0.836],[1.04,0.906],[1.24,0.948],[1.43,0.892],[1.62,0.83],[1.72,0.828],[1.82,0.83],[1.92,0.828],[2.01,0.83],[2.11,0.845],[2.21,0.864],[2.3,0.878],[2.4,0.892],[2.53,0.92],[2.66,0.948],[2.79,0.955],[2.92,0.962],[3.05,0.97],[3.18,0.976],[3.31,0.976],[3.44,0.976],[3.57,0.98],[3.7,0.983],[3.86,0.986],[4.02,0.99],[4.44,1.032]];
const u6787Urc=[[0,0],[0.13,0.528],[0.33,0.78],[0.52,0.892],[0.78,0.955],[1.43,1.018],[2.08,1.046],[2.73,1.067],[3.38,1.084],[4.48,1.102]];
const u6787RedLine=[[0,0],[0.13,0.276],[0.33,0.528],[0.59,0.682],[0.91,0.794],[1.43,0.864],[2.08,0.92],[2.73,0.948],[3.38,0.962],[4.48,0.976]];
const u6787RedDot=[[0.65,0.584],[1.1,0.444],[1.75,0.36],[2.4,0.304],[3.05,0.262],[3.7,0.234],[4.35,0.213],[4.97,0.2]];

// UGC 8699
const u8699Band=[[0.12,1.046,1.13],[0.33,0.99,1.06],[0.69,0.934,0.976],[0.95,1.018,1.088],[1.21,0.976,1.06],[1.47,0.934,1.039],[1.99,0.92,1.032],[2.51,0.934,1.039],[3.16,0.955,1.053]];
const u8699Black=[[0.01,0.8,0],[0.02,1.0,0],[0.04,1.05,0],[0.06,1.08,0],[0.09,1.12,0],[0.12,1.13,0],[0.15,1.1,0],[0.2,1.1,0],[0.28,1.06,0],[0.38,1.018,0.07],[0.67,0.92,0],[0.74,0.892,0],[0.8,0.934,0],[0.85,0.976,0],[0.9,1.018,0],[0.95,1.074,0],[1.0,1.13,0],[1.05,1.088,0],[1.13,1.046,0],[1.26,0.948,0.06],[1.39,0.976,0],[1.63,0.983,0],[1.86,0.976,0.03],[2.09,0.948,0.03],[2.33,0.983,0],[2.56,0.997,0],[2.79,1.004,0.03],[3.13,1.004,0.05]];
const u8699Red=[[0.02,0.2],[0.03,0.35],[0.05,0.45],[0.06,0.55],[0.08,0.62],[0.12,0.62],[0.15,0.67],[0.25,0.55],[0.35,0.53],[0.69,0.626],[0.69,0.556],[0.77,0.696],[0.85,0.724],[0.93,0.78],[1.0,0.836],[1.06,0.906],[1.16,0.864],[1.26,0.766],[1.39,0.822],[1.63,0.85],[1.86,0.878],[2.09,0.864],[2.33,0.906],[2.56,0.92],[2.79,0.927],[3.13,0.934]];
const u8699Urc=[[0,0],[0.07,0.248],[0.17,0.458],[0.33,0.64],[0.54,0.808],[0.74,0.92],[0.95,0.997],[1.21,1.06],[1.47,1.095],[1.99,1.116],[2.51,1.133],[3.13,1.141]];
const u8699RedLine=[[0,0],[0.07,0.206],[0.23,0.388],[0.43,0.528],[0.69,0.654],[0.95,0.745],[1.21,0.808],[1.47,0.843],[1.99,0.885],[2.51,0.92],[3.13,0.941]];
const u8699RedDot=[[0.17,0.99],[0.33,0.906],[0.54,0.766],[0.8,0.64],[1.21,0.528],[1.73,0.444],[2.25,0.388],[2.77,0.346],[3.29,0.318],[3.91,0.29]];

// UGC 9133
const u9133Band=[[0.07,0.92,1.1],[0.38,0.948,1.116],[0.85,0.92,1.018],[1.36,0.878,0.962],[1.83,0.892,0.976],[2.14,0.85,0.892],[2.66,0.78,0.878],[3.18,0.78,0.892],[3.34,0.808,0.92]];
const u9133Black=[[0.02,1.05,0],[0.04,1.0,0],[0.05,1.08,0],[0.07,1.02,0],[0.08,1.1,0],[0.1,0.98,0],[0.11,1.06,0],[0.13,1.05,0],[0.15,1.0,0],[0.16,1.12,0],[0.18,1.05,0],[0.2,1.02,0],[0.22,1.15,0],[0.25,1.05,0],[0.28,1.02,0],[0.3,1.0,0],[0.35,1.0,0],[0.4,0.98,0],[0.43,1.165,0],[0.45,0.98,0],[0.5,0.97,0],[0.55,0.96,0],[0.6,0.95,0],[0.65,0.94,0],[0.7,0.93,0],[0.75,0.92,0],[0.8,0.91,0],[0.85,0.905,0],[0.9,0.9,0],[0.95,0.9,0],[1.0,0.9,0],[1.05,0.895,0],[1.1,0.89,0],[1.15,0.895,0],[1.2,0.9,0],[1.25,0.91,0],[1.3,0.92,0],[1.35,0.92,0],[1.4,0.91,0],[1.45,0.9,0],[1.5,0.89,0],[1.6,0.885,0],[1.7,0.88,0],[1.8,0.875,0],[1.9,0.87,0],[2.0,0.865,0],[2.1,0.86,0],[2.2,0.855,0],[2.3,0.85,0],[2.4,0.845,0],[2.5,0.84,0],[2.6,0.84,0],[2.7,0.84,0],[2.8,0.845,0],[2.9,0.85,0],[3.05,0.86,0],[3.3,0.86,0]];
const u9133Red=[[0.02,0.3],[0.04,0.45],[0.06,0.55],[0.08,0.65],[0.1,0.72],[0.13,0.8],[0.16,0.85],[0.2,0.87],[0.25,0.86],[0.3,0.86],[0.4,0.87],[0.5,0.87],[0.6,0.86],[0.7,0.85],[0.8,0.84],[0.9,0.84],[1.0,0.85],[1.1,0.86],[1.2,0.87],[1.3,0.88],[1.4,0.87],[1.5,0.86],[1.6,0.855],[1.7,0.85],[1.8,0.845],[1.9,0.84],[2.0,0.835],[2.1,0.83],[2.2,0.825],[2.3,0.82],[2.4,0.82],[2.5,0.82],[2.6,0.815],[2.7,0.81],[2.8,0.815],[2.9,0.82],[3.1,0.84],[3.3,0.85]];
const u9133Urc=[[0,0],[0.03,0.3],[0.08,0.55],[0.15,0.75],[0.25,0.9],[0.35,0.98],[0.45,1.01],[0.6,1.0],[0.85,0.96],[1.2,0.925],[1.6,0.9],[2.2,0.89],[2.8,0.885],[3.3,0.885]];
const u9133RedLine=[[0,0],[0.03,0.25],[0.08,0.5],[0.15,0.7],[0.25,0.84],[0.4,0.9],[0.6,0.905],[1.0,0.9],[1.6,0.89],[2.2,0.88],[3.3,0.875]];
const u9133RedDot=[[0.12,0.85],[0.22,0.724],[0.43,0.556],[0.85,0.402],[1.36,0.29],[1.88,0.234],[2.4,0.206],[2.92,0.192],[3.23,0.185]];

// UGC 11670
const u11670Band=[[0.05,1.0,1.29],[0.3,1.0,1.25],[0.6,0.98,1.1],[0.96,0.95,1.06],[2.1,0.95,1.06],[2.9,0.93,1.02],[3.7,0.93,1.03],[4.55,1.0,1.08],[5.0,1.03,1.135]];
const u11670Black=[[0.05,1.2,0],[0.08,1.17,0],[0.1,1.22,0],[0.13,1.19,0],[0.15,1.18,0],[0.18,1.23,0],[0.2,1.22,0],[0.25,1.2,0],[0.3,1.15,0],[0.35,1.12,0],[0.4,1.12,0],[0.5,1.05,0],[0.6,1.02,0],[0.8,1.0,0],[1.0,1.02,0],[1.2,1.03,0],[1.4,1.06,0],[1.5,1.1,0.04],[1.7,1.05,0],[2.0,1.04,0],[2.2,1.03,0],[2.4,1.02,0],[2.6,1.02,0],[2.8,1.0,0],[3.0,0.98,0],[3.2,0.99,0],[3.4,1.0,0],[3.6,0.99,0],[3.8,1.0,0.03],[4.0,0.98,0],[4.2,1.0,0],[4.4,1.05,0],[4.6,1.08,0],[4.8,1.1,0],[4.95,1.1,0]];
const u11670Red=[[0.02,0.3],[0.05,0.5],[0.08,0.6],[0.1,0.75],[0.15,0.82],[0.2,0.88],[0.3,0.9],[0.4,0.88],[0.5,0.92],[0.6,0.95],[0.8,0.98],[1.0,1.0],[1.2,1.02],[1.4,1.03],[1.5,1.05],[1.7,1.03],[2.0,1.02],[2.2,1.01],[2.4,1.0],[2.6,1.0],[2.8,0.99],[3.0,0.97],[3.2,0.98],[3.4,0.99],[3.6,0.98],[3.8,0.99],[4.0,0.97],[4.2,0.99],[4.4,1.04],[4.6,1.07],[4.8,1.09],[4.95,1.09]];
const u11670Urc=[[0,0],[0.05,0.2],[0.1,0.45],[0.2,0.7],[0.3,0.82],[0.5,0.93],[0.8,1.0],[1.2,1.05],[1.7,1.1],[2.5,1.14],[3.5,1.17],[5.0,1.19]];
const u11670RedLine=[[0,0],[0.05,0.15],[0.1,0.35],[0.2,0.58],[0.3,0.72],[0.5,0.85],[0.8,0.95],[1.2,1.01],[1.7,1.05],[2.5,1.08],[3.5,1.1],[5.0,1.11]];
const u11670RedDot=[[0.3,0.83],[0.8,0.67],[1.29,0.57],[2.1,0.416],[2.92,0.31],[3.74,0.25],[4.55,0.21],[5.37,0.185]];

// UGC 11852
const u11852Band=[[0.15,0.88,1.08],[0.5,1.0,1.135],[0.93,0.904,1.03],[1.38,0.853,0.98],[2.04,0.776,0.93],[2.7,0.78,0.93],[3.38,0.78,0.956],[4.04,0.75,0.904],[4.7,0.7,0.827],[5.2,0.76,0.9],[5.82,0.7,0.88],[6.5,0.725,0.88]];
const u11852Black=[[0.05,1.0,0],[0.1,1.05,0],[0.15,0.95,0],[0.2,1.05,0],[0.3,1.1,0],[0.4,1.08,0],[0.5,1.12,0.06],[0.6,1.05,0],[0.8,1.02,0],[1.0,1.0,0.04],[1.2,0.95,0],[1.4,0.92,0],[1.6,0.9,0],[1.8,0.87,0],[2.0,0.86,0],[2.2,0.86,0],[2.4,0.87,0],[2.6,0.87,0],[2.8,0.88,0],[3.0,0.88,0],[3.2,0.87,0],[3.4,0.86,0],[3.6,0.85,0],[3.8,0.84,0],[4.0,0.84,0],[4.2,0.82,0],[4.4,0.79,0],[4.6,0.77,0],[4.8,0.75,0],[5.2,0.83,0],[5.6,0.78,0],[6.5,0.8,0.05]];
const u11852Red=[[0.05,0.75],[0.1,0.9],[0.15,0.95],[0.2,1.0],[0.3,1.05],[0.5,1.08],[0.8,1.0],[1.0,0.97],[1.2,0.92],[1.5,0.88],[2.0,0.84],[2.5,0.85],[3.0,0.86],[3.5,0.84],[4.0,0.82],[4.4,0.77],[4.8,0.73],[5.2,0.8],[5.6,0.76],[6.5,0.78]];
const u11852Urc=[[0,0],[0.05,0.5],[0.1,0.75],[0.2,0.93],[0.35,1.0],[0.6,1.03],[1.0,1.04],[2.0,1.05],[4.0,1.05],[6.5,1.05]];
const u11852RedLine=[[0,0],[0.05,0.35],[0.1,0.6],[0.2,0.8],[0.35,0.9],[0.6,0.95],[1.0,0.97],[2.0,0.985],[4.0,0.99],[6.5,0.99]];
const u11852RedDot=[[0.27,0.93],[0.71,0.72],[1.16,0.57],[2.04,0.39],[3.16,0.26],[4.27,0.185],[5.38,0.15],[6.93,0.134]];

// UGC 11914
const u11914Band=[[0.03,0.51,0.93],[0.09,0.847,1.1],[0.145,0.847,1.17],[0.17,0.917,1.175],[0.275,0.89,1.18],[0.53,0.875,1.18],[0.79,0.854,1.17],[0.95,0.89,1.127],[1.05,0.917,1.148],[1.31,0.924,1.197],[1.48,0.91,1.232]];
const u11914Black=[[0.02,0.4,0],[0.03,0.6,0.04],[0.04,0.65,0],[0.05,0.7,0],[0.06,0.75,0],[0.07,0.85,0],[0.09,0.88,0],[0.1,0.92,0],[0.12,0.95,0],[0.15,1.0,0],[0.18,1.03,0],[0.2,1.02,0],[0.22,0.98,0],[0.25,1.03,0],[0.28,1.0,0],[0.3,1.04,0],[0.33,1.0,0],[0.36,1.03,0],[0.4,1.0,0],[0.43,1.02,0],[0.46,0.99,0],[0.5,1.0,0],[0.55,1.06,0.08],[0.58,1.0,0],[0.6,1.03,0],[0.63,1.01,0],[0.66,1.0,0],[0.7,1.02,0],[0.74,0.99,0],[0.78,1.03,0.07],[0.82,1.0,0],[0.86,1.04,0],[0.92,1.03,0],[1.03,1.0,0],[1.28,1.02,0],[1.48,1.08,0]];
const u11914Red=[[0.02,0.3],[0.03,0.42],[0.05,0.55],[0.07,0.65],[0.09,0.75],[0.11,0.82],[0.14,0.87],[0.17,0.9],[0.2,0.88],[0.23,0.91],[0.26,0.89],[0.3,0.9],[0.35,0.88],[0.4,0.9],[0.45,0.93],[0.5,0.95],[0.55,0.98],[0.6,0.96],[0.65,0.99],[0.7,0.95],[0.75,0.98],[0.8,0.96],[0.85,0.95],[0.9,0.97],[1.0,0.98],[1.2,0.99],[1.48,1.02]];
const u11914Urc=[[0,0],[0.04,0.38],[0.145,0.59],[0.275,0.7],[0.4,0.79],[0.53,0.86],[0.66,0.91],[0.79,0.95],[0.92,0.985],[1.1,1.015],[1.31,1.03],[1.48,1.043]];
const u11914RedLine=[[0,0],[0.04,0.3],[0.145,0.483],[0.275,0.61],[0.4,0.693],[0.53,0.763],[0.66,0.82],[0.79,0.868],[0.92,0.903],[1.05,0.945],[1.18,0.973],[1.31,1.0],[1.48,1.022]];
const u11914RedDot=[[0.12,0.553],[0.275,0.525],[0.53,0.469],[0.79,0.427],[1.05,0.385],[1.31,0.357],[1.57,0.329],[1.73,0.315]];

// UGC 12043
const u12043Band=[[0.64,1.03,1.113],[1.37,1.043,1.113],[2.41,1.03,1.1],[3.45,1.008,1.07],[3.97,1.0,1.057],[4.49,1.015,1.085],[5.52,1.03,1.127],[6.04,1.043,1.134]];
const u12043Black=[[0.04,0.063,0],[0.05,0.16,0],[0.06,0.33,0.04],[0.12,0.343,0.04],[0.23,0.567,0],[0.38,0.623,0],[0.49,0.665,0.05],[0.7,1.036,0.19],[0.7,0.96,0],[1.0,0.973,0.15],[1.05,1.16,0.03],[1.21,1.057,0],[1.47,1.078,0],[1.73,1.078,0],[1.99,1.078,0],[2.25,1.07,0],[2.51,1.057,0],[2.77,1.043,0],[3.03,1.043,0],[3.34,1.043,0],[3.65,1.022,0],[3.97,1.057,0],[4.23,1.064,0],[4.49,1.078,0],[4.8,1.085,0.05],[5.11,1.092,0.06],[5.58,1.085,0.07],[5.99,1.106,0.05]];
const u12043Red=[];
const u12043Urc=[[0,0],[0.07,0.23],[0.23,0.51],[0.44,0.72],[0.75,0.93],[1.16,1.07],[1.68,1.155],[2.41,1.204],[3.45,1.232],[4.49,1.24],[6.04,1.24]];
const u12043RedLine=[];
const u12043RedDot=[];

// --------------- assemble ---------------
const bands=[u624Band,u2487Band,u2916Band,u2953Band,u3205Band,u3546Band,u3580Band,u3993Band,u4458Band,u5253Band,u6786Band,u6787Band,u8699Band,u9133Band,u11670Band,u11852Band,u11914Band,u12043Band];
const blacks=[u624Black,u2487Black,u2916Black,u2953Black,u3205Black,u3546Black,u3580Black,u3993Black,u4458Black,u5253Black,u6786Black,u6787Black,u8699Black,u9133Black,u11670Black,u11852Black,u11914Black,u12043Black];
const reds=[u624Red,u2487Red,u2916Red,u2953Red,u3205Red,u3546Red,u3580Red,u3993Red,u4458Red,u5253Red,u6786Red,u6787Red,u8699Red,u9133Red,u11670Red,u11852Red,u11914Red,u12043Red];
const urcs=[u624Urc,u2487Urc,u2916Urc,u2953Urc,u3205Urc,u3546Urc,u3580Urc,u3993Urc,u4458Urc,u5253Urc,u6786Urc,u6787Urc,u8699Urc,u9133Urc,u11670Urc,u11852Urc,u11914Urc,u12043Urc];
const redLines=[u624RedLine,u2487RedLine,u2916RedLine,u2953RedLine,u3205RedLine,u3546RedLine,u3580RedLine,u3993RedLine,u4458RedLine,u5253RedLine,u6786RedLine,u6787RedLine,u8699RedLine,u9133RedLine,u11670RedLine,u11852RedLine,u11914RedLine,u12043RedLine];
const redDots=[u624RedDot,u2487RedDot,u2916RedDot,u2953RedDot,u3205RedDot,u3546RedDot,u3580RedDot,u3993RedDot,u4458RedDot,u5253RedDot,u6786RedDot,u6787RedDot,u8699RedDot,u9133RedDot,u11670RedDot,u11852RedDot,u11914RedDot,u12043RedDot];

// --------------- layout ---------------
const COL_X=[118.8,531.6,945,1357.5], ROW_Y=[12,377.3,742.6,1107.9,1473.2];
const PW=413, PH=353, Y_MAX=1.48;
const BAND="#8fa6ac", INK="#3a3a3a", RED="#e4262e", DOT="#c97680";
const SANS="'Liberation Sans', Arial, sans-serif", SERIF="'Liberation Serif', 'Times New Roman', serif";

const svg=d3.select("#chart");
const defs=svg.append("defs");

const bottomLabels={"UGC 11670":xTickLabels11670,"UGC 11852":xTickLabels11852,"UGC 11914":xTickLabels11914,"UGC 12043":xTickLabels12043};

function fix(a){return a.map(v=>+v.toFixed(4));}
function vLabel(g,tx,ty,rot){
  const t=g.append("text").attr("transform",`translate(${tx},${ty}) rotate(${rot})`).attr("text-anchor","middle")
    .attr("font-family",SANS).attr("font-size",30).attr("letter-spacing","4px").attr("fill","#333");
  t.append("tspan").text("V/V");
  t.append("tspan").attr("dy",8).attr("font-size",20).text("80");
}

galaxyNames.forEach((name,i)=>{
  const col=i%4, row=Math.floor(i/4);
  const px=COL_X[col], py=ROW_Y[row];
  const xMax=xMaxValues[i];
  const x=d3.scaleLinear().domain([0,xMax]).range([px,px+PW]);
  const y=d3.scaleLinear().domain([0,Y_MAX]).range([py+PH,py]);
  const g=svg.append("g").attr("class","panel");
  defs.append("clipPath").attr("id","c"+i).append("rect").attr("x",px).attr("y",py).attr("width",PW).attr("height",PH);
  const inner=g.append("g").attr("clip-path",`url(#c${i})`);

  inner.append("path").datum(bands[i])
    .attr("d",d3.area().x(d=>x(d[0])).y0(d=>y(d[1])).y1(d=>y(d[2])).curve(d3.curveMonotoneX))
    .attr("fill",BAND).attr("stroke","#7f979d").attr("stroke-width",0.6);

  const line=d3.line().x(d=>x(d[0])).y(d=>y(d[1])).curve(d3.curveMonotoneX);
  if(redDots[i].length) inner.append("path").datum(redDots[i]).attr("d",line)
    .attr("fill","none").attr("stroke",DOT).attr("stroke-width",2.6).attr("stroke-dasharray","4,6");
  if(redLines[i].length) inner.append("path").datum(redLines[i]).attr("d",line)
    .attr("fill","none").attr("stroke",RED).attr("stroke-width",1.7);

  // red points
  const rg=inner.append("g");
  reds[i].forEach((d,k)=>{
    if(k%3===1) rg.append("circle").attr("cx",x(d[0])).attr("cy",y(d[1])).attr("r",3.2)
      .attr("fill","rgba(228,38,46,0.15)").attr("stroke",RED).attr("stroke-width",1.6);
    else rg.append("rect").attr("x",x(d[0])-3.2).attr("y",y(d[1])-3.2).attr("width",6.4).attr("height",6.4)
      .attr("fill","rgba(228,38,46,0.15)").attr("stroke",RED).attr("stroke-width",1.6);
  });
  // black points + error bars
  const bg=inner.append("g");
  blacks[i].forEach(d=>{
    if(d[2]>0){
      const cx=x(d[0]);
      bg.append("line").attr("x1",cx).attr("x2",cx).attr("y1",y(d[1]-d[2])).attr("y2",y(d[1]+d[2])).attr("stroke","#111").attr("stroke-width",1.5);
      [d[1]-d[2],d[1]+d[2]].forEach(v=>bg.append("line").attr("x1",cx-4).attr("x2",cx+4).attr("y1",y(v)).attr("y2",y(v)).attr("stroke","#111").attr("stroke-width",1.5));
    }
    bg.append("rect").attr("x",x(d[0])-3.4).attr("y",y(d[1])-3.4).attr("width",6.8).attr("height",6.8)
      .attr("fill","rgba(40,45,48,0.45)").attr("stroke","#111").attr("stroke-width",1.8);
  });
  inner.append("path").datum(urcs[i]).attr("d",line).attr("fill","none").attr("stroke","#0a0a0a").attr("stroke-width",3.2);

  // frame
  g.append("rect").attr("x",px).attr("y",py).attr("width",PW).attr("height",PH)
    .attr("fill","none").attr("stroke",INK).attr("stroke-width",2.2);

  // ticks
  const minorX=fix(d3.range(0,xMax+1e-6,xMinorSteps[i]));
  const majorX=fix(d3.range(0,xMax+1e-6,xMajorSteps[i]));
  const minorY=fix(d3.range(0,Y_MAX+1e-6,0.1));
  const majorY=[0,0.5,1];
  const tk=(sel)=>{sel.select(".domain").remove();sel.selectAll(".tick line").attr("stroke",INK).attr("stroke-width",1.6);};
  g.append("g").attr("transform",`translate(0,${py+PH})`).call(d3.axisBottom(x).tickValues(minorX).tickSize(-7).tickFormat("")).call(tk);
  g.append("g").attr("transform",`translate(0,${py+PH})`).call(d3.axisBottom(x).tickValues(majorX).tickSize(-13).tickFormat("")).call(tk);
  g.append("g").attr("transform",`translate(0,${py})`).call(d3.axisTop(x).tickValues(minorX).tickSize(-7).tickFormat("")).call(tk);
  g.append("g").attr("transform",`translate(0,${py})`).call(d3.axisTop(x).tickValues(majorX).tickSize(-13).tickFormat("")).call(tk);
  g.append("g").attr("transform",`translate(${px},0)`).call(d3.axisLeft(y).tickValues(minorY).tickSize(-8).tickFormat("")).call(tk);
  g.append("g").attr("transform",`translate(${px},0)`).call(d3.axisLeft(y).tickValues(majorY).tickSize(-14).tickFormat("")).call(tk);
  g.append("g").attr("transform",`translate(${px+PW},0)`).call(d3.axisRight(y).tickValues(minorY).tickSize(-8).tickFormat("")).call(tk);
  g.append("g").attr("transform",`translate(${px+PW},0)`).call(d3.axisRight(y).tickValues(majorY).tickSize(-14).tickFormat("")).call(tk);

  // title
  const t=g.append("text").attr("y",py+43).attr("font-family",SERIF).attr("font-size",31)
    .attr("letter-spacing","4px").attr("word-spacing","5px").attr("fill","#2a2a2a").text(name);
  if(name==="UGC 3580") t.attr("x",px+19).attr("text-anchor","start");
  else t.attr("x",px+PW/2).attr("text-anchor","middle");

  const fmt=d=>d===0.5?"0.5":String(d);
  const labStyle=sel=>{sel.select(".domain").remove();sel.selectAll("text").attr("fill","#333");};
  // left labels
  if(col===0){
    g.append("g").attr("transform",`translate(${px},0)`)
      .call(d3.axisLeft(y).tickValues(yTickLabels).tickSize(0).tickPadding(19).tickFormat(fmt))
      .attr("font-family",SANS).attr("font-size",23).call(labStyle);
    vLabel(g,44,py+PH/2-(row<4?36:22),-90);
  }
  // right labels
  if((col===3&&row<4)||(row===4&&col===1)){
    g.append("g").attr("transform",`translate(${px+PW},0)`)
      .call(d3.axisRight(y).tickValues(yTickLabels).tickSize(0).tickPadding(17).tickFormat(fmt))
      .attr("font-family",SANS).attr("font-size",23).call(labStyle);
    vLabel(g,px+PW+86,py+PH/2-(row<4?33:0),90);
  }
  // bottom labels
  if(bottomLabels[name]){
    g.append("g").attr("transform",`translate(0,${py+PH})`)
      .call(d3.axisBottom(x).tickValues(bottomLabels[name]).tickSize(0).tickPadding(21).tickFormat(d=>String(d)))
      .attr("font-family",SERIF).attr("font-size",26).call(labStyle);
    const xl=g.append("text").attr("x",px+PW/2).attr("y",py+PH+77).attr("text-anchor","middle")
      .attr("font-family",SERIF).attr("font-size",30).attr("letter-spacing","4px").attr("fill","#333");
    xl.append("tspan").text("R/R");
    xl.append("tspan").attr("dy",8).attr("font-size",20).text("80");
  }
});

// annotation texts (as visible in the reference, which is cut at the right edge)
svg.append("text").attr("x",1163).attr("y",1703).attr("font-family","Lato, 'Open Sans', sans-serif")
  .attr("font-size",105).attr("fill","#000").attr("textLength",718).attr("lengthAdjust","spacingAndGlyphs").text(annotationTitle);
svg.append("text").attr("x",1253).attr("y",1783).attr("font-family",SERIF)
  .attr("font-size",62).attr("fill","#000").attr("textLength",628).attr("lengthAdjust","spacingAndGlyphs").text(annotationRef);
svg.append("text").attr("x",1256).attr("y",1857).attr("font-family",SERIF)
  .attr("font-size",62).attr("fill","#000").attr("textLength",624).attr("lengthAdjust","spacingAndGlyphs").text(annotationNote);
</script>
</body></html>
